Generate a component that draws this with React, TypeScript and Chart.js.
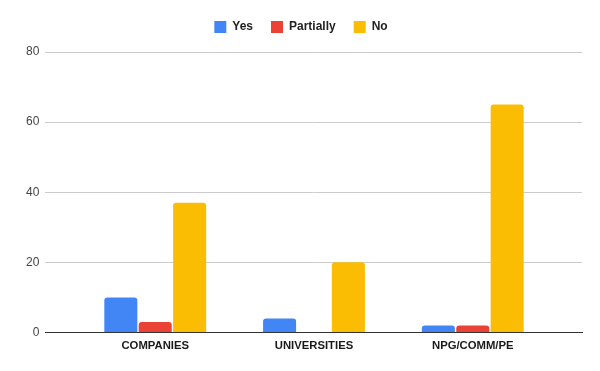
import React, { useEffect, useRef } from "react";
import { Chart, registerables } from "chart.js";

Chart.register(...registerables);

const categories = ["COMPANIES", "UNIVERSITIES", "NPG/COMM/PE"];
const yesValues = [10, 4, 2];
const partiallyValues = [3, 0, 2];
const noValues = [37, 20, 65];
const yTicks = [0, 20, 40, 60, 80];

const toPoints = (vals: number[]) => vals.map((v, i) => ({ x: i, y: v }));

const legendSpacing = {
  id: "legendSpacing",
  beforeInit(chart: any) {
    const legend = chart.legend;
    if (!legend) return;
    const origFit = legend.fit;
    legend.fit = function () {
      origFit.bind(legend)();
      this.height += 9;
    };
  },
};

export default function App() {
  const ref = useRef<HTMLCanvasElement | null>(null);
  useEffect(() => {
    if (!ref.current) return;
    const chart = new Chart(ref.current, {
      type: "bar",
      data: {
        datasets: [
          { label: "Yes", data: toPoints(yesValues), backgroundColor: "#4285F4", borderRadius: 3 },
          { label: "Partially", data: toPoints(partiallyValues), backgroundColor: "#EA4335", borderRadius: 3 },
          { label: "No", data: toPoints(noValues), backgroundColor: "#FBBC04", borderRadius: 3 },
        ],
      },
      plugins: [legendSpacing],
      options: {
        animation: false,
        responsive: false,
        maintainAspectRatio: false,
        datasets: { bar: { categoryPercentage: 0.65, barPercentage: 0.96 } },
        layout: { padding: { left: 20, right: 18, top: 3, bottom: 11 } },
        plugins: {
          legend: {
            position: "top",
            labels: {
              boxWidth: 12,
              boxHeight: 12,
              padding: 18,
              color: "#222222",
              font: { family: "Arial, 'Liberation Sans', sans-serif", size: 12, weight: "bold" },
            },
          },
          tooltip: { enabled: false },
        },
        scales: {
          x: {
            type: "linear",
            offset: false,
            min: -0.692,
            max: 2.688,
            grid: { display: false, drawTicks: false, offset: false },
            border: { display: true, color: "#333333", width: 1 },
            afterBuildTicks: (scale: any) => {
              scale.ticks = categories.map((_, i) => ({ value: i }));
            },
            ticks: {
              padding: 7,
              autoSkip: false,
              maxRotation: 0,
              color: "#1a1a1a",
              font: { family: "Arial, 'Liberation Sans', sans-serif", size: 11.3, weight: "bold" },
              callback: (v: any) => categories[v] ?? "",
            },
          },
          y: {
            min: 0,
            max: 80,
            afterBuildTicks: (scale: any) => {
              scale.ticks = yTicks.map((v) => ({ value: v }));
            },
            grid: { color: "#cccccc", drawTicks: false },
            border: { display: false },
            ticks: {
              padding: 6,
              color: "#444444",
              font: { family: "Arial, 'Liberation Sans', sans-serif", size: 12 },
            },
          },
        },
      },
    });
    return () => chart.destroy();
  }, []);
  return (
    <div style={{ position: "fixed", left: 0, top: 0, width: 600, height: 371, background: "#fff" }}>
      <canvas ref={ref} width={600} height={371} style={{ width: 600, height: 371 }} />
    </div>
  );
}
